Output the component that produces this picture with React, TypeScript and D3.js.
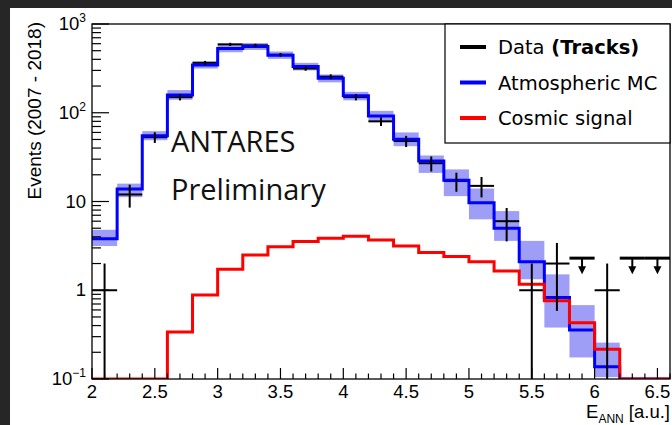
import React from "react";
import * as d3 from "d3";

// ---------- data ----------
const binLow = [2.0, 2.2, 2.4, 2.6, 2.8, 3.0, 3.2, 3.4, 3.6, 3.8, 4.0, 4.2, 4.4, 4.6, 4.8, 5.0, 5.2, 5.4, 5.6, 5.8, 6.0, 6.2, 6.4];
const binWidth = 0.2;
const mcValues = [3.8, 13.8, 55, 159, 346, 528, 557, 444, 331, 245, 155, 92, 50.4, 28.6, 17.4, 9.7, 5.0, 2.1, 0.83, 0.357, 0.137, 0, 0];
const mcLow = [3.15, 11.2, 49, 140, 315, 480, 510, 405, 300, 220, 138, 80, 42, 21, 11.5, 6.3, 3.6, 1.33, 0.38, 0.175, 0.105, 0, 0];
const mcHigh = [4.8, 15.9, 62, 180, 380, 580, 610, 490, 365, 270, 172, 105, 60, 33, 23, 14, 7.8, 3.6, 1.51, 0.68, 0.257, 0, 0];
const signalValues = [0, 0, 0, 0.339, 0.885, 1.72, 2.5, 3.1, 3.54, 3.85, 4.05, 3.69, 3.16, 2.66, 2.4, 2.1, 1.65, 1.17, 0.76, 0.43, 0.216, 0, 0];
const dataCounts = [1, 12, 53, 150, 365, 590, 575, 450, 315, 255, 150, 80, 48, 27, 17, 15, 6, 1, 2, 0, 1, 0, 0];
const upperLimit = 2.3;
const xTicks = [2, 2.5, 3, 3.5, 4, 4.5, 5, 5.5, 6, 6.5];
const yDecades = [-1, 0, 1, 2, 3];
const legendLabels = ["Data", "Atmospheric MC", "Cosmic signal"];

// ---------- layout ----------
const W = 672, H = 425;
const L = 92, R = 670, T = 24, B = 379;
const xMin = 2, xMax = 6.6, yMin = 0.1, yMax = 1000;

const x = d3.scaleLinear().domain([xMin, xMax]).range([L, R]);
const y = d3.scaleLog().domain([yMin, yMax]).range([B, T]).clamp(true);
const yv = (v: number) => (v > yMin ? y(v) : B);

function stepPath(vals: number[]) {
  const pts: [number, number][] = binLow.map((b, i) => [b, vals[i]]);
  pts.push([binLow[binLow.length - 1] + binWidth, vals[vals.length - 1]]);
  const line = d3
    .line<[number, number]>()
    .x((d) => x(d[0]))
    .y((d) => yv(d[1]))
    .curve(d3.curveStepAfter);
  return line(pts) || "";
}

const supNum = (e: number) => (e === -1 ? "\u22121" : String(e));

export default function App() {
  const font = "'Liberation Sans', Arial, Helvetica, sans-serif";
  const xMinor: number[] = [];
  for (let v = 2; v <= 6.6 + 1e-9; v += 0.1) xMinor.push(Math.round(v * 10) / 10);
  const yMinor: number[] = [];
  for (let e = -1; e < 3; e++) for (let k = 2; k <= 9; k++) yMinor.push(k * Math.pow(10, e));

  return (
    <svg width={W} height={H} style={{ position: "absolute", left: 0, top: 0, background: "#fff" }}>
      <rect x={0} y={0} width={W} height={H} fill="#fff" />
      <rect x={0} y={0} width={10} height={H} fill="#262626" />
      <rect x={0} y={0} width={W} height={8} fill="#262626" />

      <defs>
        <clipPath id="plotclip">
          <rect x={L} y={T} width={R - L} height={B - T} />
        </clipPath>
      </defs>

      <g clipPath="url(#plotclip)">
        {/* MC band */}
        {binLow.map((b, i) =>
          mcHigh[i] > 0 ? (
            <rect
              key={"band" + i}
              x={x(b)}
              width={x(b + binWidth) - x(b)}
              y={yv(mcHigh[i])}
              height={yv(mcLow[i]) - yv(mcHigh[i])}
              fill="#9e9ef6"
            />
          ) : null
        )}
        {/* data horizontal bars (under the lines) */}
        {binLow.map((b, i) => {
          const n = dataCounts[i];
          if (n <= 0) return null;
          return (
            <line key={"dh" + i} x1={x(b)} x2={x(b + binWidth)} y1={yv(n)} y2={yv(n)} stroke="#000" strokeWidth={2} />
          );
        })}
        {/* MC */}
        <path d={stepPath(mcValues)} fill="none" stroke="#0000ff" strokeWidth={3} />
        {/* signal */}
        <path d={stepPath(signalValues)} fill="none" stroke="#ff0000" strokeWidth={3} />
        {/* data vertical bars and limits */}
        {binLow.map((b, i) => {
          const n = dataCounts[i];
          const cx = x(b + binWidth / 2);
          if (n > 0) {
            const e = Math.sqrt(n);
            return (
              <line key={"dv" + i} x1={cx} x2={cx} y1={yv(n + e)} y2={yv(n - e)} stroke="#000" strokeWidth={2} />
            );
          }
          const yl = yv(upperLimit);
          return (
            <g key={"d" + i}>
              <line x1={x(b)} x2={x(b + binWidth)} y1={yl} y2={yl} stroke="#000" strokeWidth={3} />
              <line x1={cx} x2={cx} y1={yl} y2={yl + 10} stroke="#000" strokeWidth={2} />
              <path d={`M${cx - 4},${yl + 8}L${cx + 4},${yl + 8}L${cx},${yl + 16}Z`} fill="#000" />
            </g>
          );
        })}
      </g>

      {/* frame */}
      <rect x={L} y={T} width={R - L} height={B - T} fill="none" stroke="#000" strokeWidth={1.3} />

      {/* x ticks */}
      {xMinor.map((v, i) => {
        const major = xTicks.some((t) => Math.abs(t - v) < 1e-6);
        return (
          <line key={"xt" + i} x1={x(v)} x2={x(v)} y1={B} y2={B - (major ? 11 : 5.5)} stroke="#000" strokeWidth={1.2} />
        );
      })}
      {xTicks.map((t) => (
        <text key={"xl" + t} x={x(t)} y={398} textAnchor="middle" fontFamily={font} fontSize={18.5} fill="#000">
          {String(t)}
        </text>
      ))}

      {/* y ticks */}
      {yDecades.map((e) => (
        <line key={"ym" + e} x1={L} x2={L + 17} y1={y(Math.pow(10, e))} y2={y(Math.pow(10, e))} stroke="#000" strokeWidth={1.2} />
      ))}
      {yMinor.map((v, i) => (
        <line key={"yn" + i} x1={L} x2={L + 9} y1={y(v)} y2={y(v)} stroke="#000" strokeWidth={1.2} />
      ))}
      {yDecades.map((e) => {
        const yy = y(Math.pow(10, e)) + 6;
        if (e === 0)
          return (
            <text key={"yl" + e} x={86} y={yy} textAnchor="end" fontFamily={font} fontSize={18.5}>
              1
            </text>
          );
        if (e === 1)
          return (
            <text key={"yl" + e} x={86} y={yy} textAnchor="end" fontFamily={font} fontSize={18.5}>
              10
            </text>
          );
        return (
          <text key={"yl" + e} x={86} y={yy} textAnchor="end" fontFamily={font} fontSize={18.5}>
            10
            <tspan fontSize={12} dy={-8}>
              {supNum(e)}
            </tspan>
          </text>
        );
      })}

      {/* axis titles */}
      <text x={R} y={418} textAnchor="end" fontFamily={font} fontSize={18.5}>
        E
        <tspan fontSize={12} dy={5}>ANN</tspan>
        <tspan dy={-5}> [a.u.]</tspan>
      </text>
      <text
        transform={`translate(41, ${T - 2}) rotate(-90)`}
        textAnchor="end"
        fontFamily={font}
        fontSize={19}
      >
        Events (2007 - 2018)
      </text>

      {/* ANTARES Preliminary */}
      <text x={171} y={152} fontFamily="'Open Sans', sans-serif" fontSize={29} fill="#111">
        ANTARES
      </text>
      <text x={171} y={200} fontFamily="'Open Sans', sans-serif" fontSize={29} fill="#111">
        Preliminary
      </text>

      {/* legend */}
      <rect x={445} y={T} width={R - 445} height={143 - T} fill="#fff" stroke="#000" strokeWidth={1.2} />
      {legendLabels.map((lab, i) => {
        const yy = 47 + i * 35.5;
        const col = ["#000", "#0000ff", "#ff0000"][i];
        return (
          <g key={"lg" + i}>
            <line x1={460} x2={486} y1={yy} y2={yy} stroke={col} strokeWidth={4} />
            <text x={498} y={yy + 7} fontFamily="'DejaVu Sans', sans-serif" fontSize={19.5} fill="#000">
              {lab}
              {i === 0 ? (
                <tspan fontWeight="bold" fontFamily="'DejaVu Sans', sans-serif">
                  {" (Tracks)"}
                </tspan>
              ) : null}
            </text>
          </g>
        );
      })}
    </svg>
  );
}
